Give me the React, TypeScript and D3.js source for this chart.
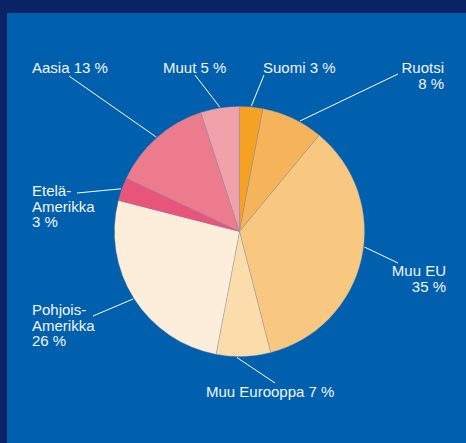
import React from "react";
import * as d3 from "d3";

// vientiosuudet alueittain, kierretään myötäpäivään klo 12:sta
const regions = ["Suomi", "Ruotsi", "Muu EU", "Muu Eurooppa", "Pohjois-Amerikka", "Etelä-Amerikka", "Aasia", "Muut"];
const shares = [3, 8, 35, 7, 26, 3, 13, 5];
const sliceColors = ["#f4a124", "#f6b45a", "#f9c880", "#fbdcab", "#fdeedc", "#e9557a", "#ec7b8e", "#f0a1a9"];

// label text lines, one entry per region
const labelLines = [
  ["Suomi 3 %"],
  ["Ruotsi", "8 %"],
  ["Muu EU", "35 %"],
  ["Muu Eurooppa 7 %"],
  ["Pohjois-", "Amerikka", "26 %"],
  ["Etelä-", "Amerikka", "3 %"],
  ["Aasia 13 %"],
  ["Muut 5 %"],
];

const width = 466;
const height = 443;
const cx = 239.5;
const cy = 231.5;
const radius = 125;

// where each label sits, where its leader line ends, and a small nudge (deg)
// of the leader's start away from the slice's middle
const labelLayout = [
  { x: 263, y: 73, anchor: "start", lx: 264, ly: 75, nudge: 0 },
  { x: 444, y: 73, anchor: "end", lx: 398, ly: 74, nudge: 3.5 },
  { x: 446, y: 276, anchor: "end", lx: 398, ly: 263, nudge: -5.5 },
  { x: 206, y: 397, anchor: "start", lx: 275, ly: 383, nudge: 3 },
  { x: 32, y: 315, anchor: "start", lx: 93, ly: 316, nudge: 0 },
  { x: 32, y: 196, anchor: "start", lx: 77, ly: 193, nudge: 0 },
  { x: 32, y: 73, anchor: "start", lx: 69, ly: 76, nudge: 0 },
  { x: 163, y: 73, anchor: "start", lx: 195, ly: 75, nudge: 0 },
];

const lineHeight = 15.5;

export default function App() {
  const arcs = d3.pie<number>().sort(null).value((d) => d)(shares);
  const arcGen = d3.arc<d3.PieArcDatum<number>>().innerRadius(0).outerRadius(radius);

  return (
    <svg
      width={width}
      height={height}
      style={{ position: "absolute", left: 0, top: 0, display: "block" }}
      fontFamily="'Liberation Sans', Arial, sans-serif"
    >
      <rect width={width} height={height} fill="#0b2265" />
      <rect x={7} y={13} width={width - 7} height={height - 13} fill="#0060ae" />
      <g transform={`translate(${cx},${cy})`}>
        {arcs.map((a, i) => (
          <path
            key={regions[i]}
            d={arcGen(a) ?? ""}
            fill={sliceColors[i]}
            stroke="#9a8f9a"
            strokeOpacity={0.6}
            strokeWidth={0.6}
          />
        ))}
        {arcs.map((a, i) => {
          const L = labelLayout[i];
          const mid = (a.startAngle + a.endAngle) / 2 + (L.nudge * Math.PI) / 180;
          const px = Math.sin(mid) * (radius + 1);
          const py = -Math.cos(mid) * (radius + 1);
          return (
            <line
              key={"l" + i}
              x1={px}
              y1={py}
              x2={L.lx - cx}
              y2={L.ly - cy}
              stroke="#ffffff"
              strokeWidth={1}
            />
          );
        })}
      </g>
      {labelLines.map((lines, i) => {
        const L = labelLayout[i];
        return (
          <text key={"t" + i} x={L.x} y={L.y} textAnchor={L.anchor} fill="#f2f5fb" fontSize={15}>
            {lines.map((t, j) => (
              <tspan key={j} x={L.x} dy={j === 0 ? 0 : lineHeight}>
                {t}
              </tspan>
            ))}
          </text>
        );
      })}
    </svg>
  );
}
